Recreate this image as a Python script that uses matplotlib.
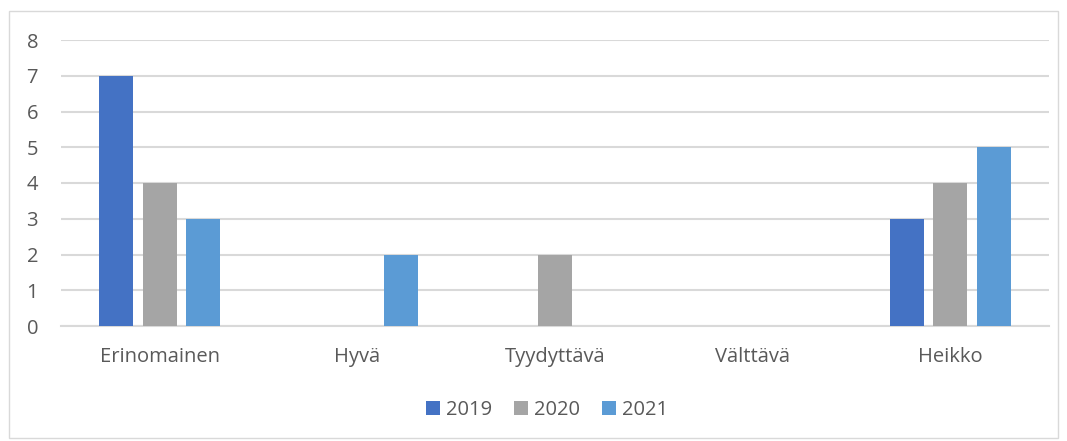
import matplotlib
matplotlib.use("Agg")
import matplotlib.pyplot as plt
import numpy as np
from matplotlib.patches import Rectangle, Patch

categories = ["Erinomainen", "Hyvä", "Tyydyttävä", "Välttävä", "Heikko"]
years = ["2019", "2020", "2021"]
v2019 = [7, 0, 0, 0, 3]
v2020 = [4, 0, 2, 0, 4]
v2021 = [3, 2, 0, 0, 5]
colors = ["#4472C4", "#A5A5A5", "#5B9BD5"]

plt.rcParams['font.family'] = ['Open Sans', 'DejaVu Sans']
W, H = 1067, 441
fig = plt.figure(figsize=(W / 100, H / 100), dpi=100)
fig.patches.append(Rectangle((9 / W, 1 - 438 / H), (1058 - 9) / W, (438 - 11) / H,
                             transform=fig.transFigure, fill=False,
                             edgecolor="#D9D9D9", linewidth=1.0))

ax = fig.add_axes([61 / W, 1 - 326 / H, (1049 - 61) / W, (326 - 40) / H])
x = np.arange(len(categories))
bw = 0.172
off = 0.22
for i, (vals, c, yr) in enumerate(zip([v2019, v2020, v2021], colors, years)):
    ax.bar(x + (i - 1) * off, vals, width=bw, color=c, label=yr, zorder=3)

ax.set_xlim(-0.5, len(categories) - 0.5)
ax.set_ylim(0, 8)
ax.set_yticks(range(0, 9))
ax.set_xticks(x)
ax.set_xticklabels(categories)
ax.yaxis.grid(True, color="#D9D9D9", linewidth=1.5, zorder=0)
ax.set_axisbelow(True)
for s in ["top", "right", "left"]:
    ax.spines[s].set_visible(False)
ax.spines["bottom"].set_color("#D9D9D9")
ax.spines["bottom"].set_linewidth(1.5)
ax.tick_params(axis="both", length=0, labelsize=14.5, labelcolor="#595959")
ax.tick_params(axis="y", pad=16.5)
ax.tick_params(axis="x", pad=15)
for lbl in ax.get_yticklabels():
    lbl.set_horizontalalignment("right")

handles = [Patch(facecolor=c, label=y) for c, y in zip(colors, years)]
fig.legend(handles=handles, loc="center", bbox_to_anchor=(547 / W, 1 - 410 / H),
           ncol=3, frameon=False, fontsize=14.5, labelcolor="#595959",
           handlelength=0.7, handleheight=0.7, handletextpad=0.3, columnspacing=1.1)

fig.savefig("out.png", dpi=100)
